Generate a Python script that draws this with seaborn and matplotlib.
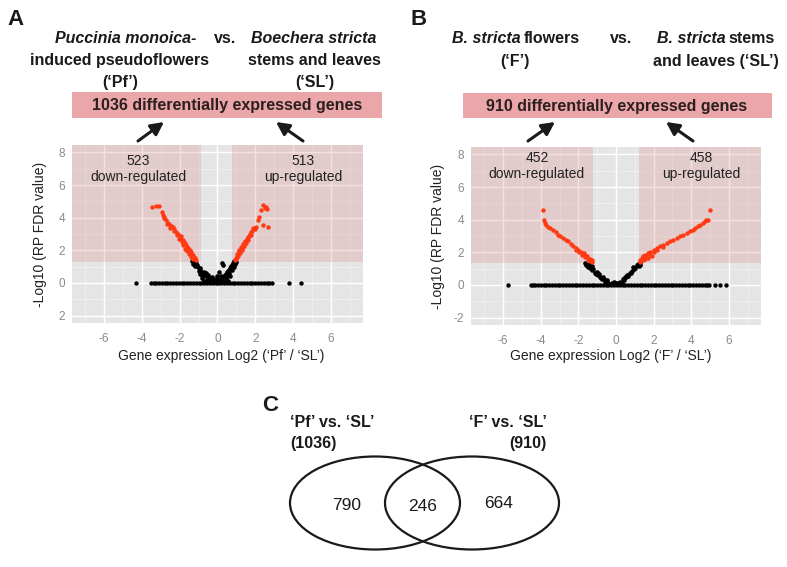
import numpy as np
import pandas as pd
import matplotlib
matplotlib.use('Agg')
import matplotlib.pyplot as plt
from matplotlib.patches import Rectangle, Ellipse
import seaborn as sns

# ---- panel A: log2('Pf'/'SL') vs -log10(RP FDR) ----
a_down_x = [-3.46, -3.25, -3.07, -2.95, -2.89, -2.82, -2.71, -2.60, -2.54, -2.45,
            -2.36, -2.28, -2.19, -2.10, -2.01, -1.95, -1.92, -1.84, -1.78, -1.72,
            -1.66, -1.60, -1.55, -1.48, -1.42, -1.38, -1.31, -1.25, -1.20, -1.13,
            -2.85, -2.65, -2.50, -2.30, -2.15, -2.05, -1.90, -1.80, -1.70, -1.60,
            -1.50, -1.40, -1.30]
a_down_y = [4.67, 4.73, 4.73, 4.37, 4.16, 4.05, 3.86, 3.70, 3.55, 3.50,
            3.41, 3.30, 3.15, 3.00, 2.84, 2.90, 2.72, 2.64, 2.50, 2.42,
            2.34, 2.20, 2.15, 2.03, 1.90, 1.82, 1.73, 1.60, 1.50, 1.42,
            3.95, 3.60, 3.35, 3.20, 2.95, 2.70, 2.50, 2.30, 2.10, 1.95,
            1.75, 1.60, 1.45]
a_up_x = [2.40, 2.57, 2.63, 2.50, 2.31, 2.22, 2.13, 2.40, 2.66, 2.05,
          1.98, 1.90, 1.85, 1.78, 1.70, 1.65, 1.60, 1.55, 1.48, 1.42,
          1.34, 1.28, 1.22, 1.16, 1.10, 1.02, 0.96, 0.90,
          1.75, 1.60, 1.50, 1.40, 1.30, 1.20, 1.10, 1.00, 1.45, 1.35,
          1.25, 1.15, 1.05]
a_up_y = [4.77, 4.67, 4.51, 4.60, 4.47, 4.02, 3.86, 3.55, 3.45, 3.45,
          3.30, 3.35, 3.20, 3.15, 3.00, 2.90, 2.84, 2.70, 2.54, 2.40,
          2.23, 2.10, 2.00, 1.93, 1.80, 1.62, 1.50, 1.38,
          2.95, 2.65, 2.45, 2.25, 2.05, 1.85, 1.65, 1.45, 2.60, 2.40,
          2.20, 2.00, 1.75]
a_ns_x = [-1.35, -1.25, -1.15, -1.20, -1.05, -0.95, -1.00, -0.85, -0.75, -0.80,
          -0.65, -0.55, 0.85, 0.95, 0.80, 0.70, 0.85, 0.65, 0.75, 0.55,
          0.60, 0.45, 0.50, 0.35, -0.80, -0.60, -0.45, -0.30, -0.15, 0.00,
          0.15, 0.30, 0.45, 0.55, -0.70, -0.50, -0.20, 0.10, 0.40, -0.35,
          0.20, -0.05, 0.10, 0.25, 0.30, -1.10, -0.90, -0.70, -0.60, -0.50,
          -0.40, 0.40, 0.50, 0.60, 0.70, 0.80, 0.90, -0.55, -0.25, 0.05,
          0.25, -0.90, 0.65, -1.30, 1.00]
a_ns_y = [1.32, 1.25, 1.20, 1.05, 1.00, 0.90, 0.75, 0.70, 0.60, 0.50,
          0.50, 0.40, 1.35, 1.25, 1.15, 1.05, 1.00, 0.90, 0.80, 0.75,
          0.60, 0.55, 0.45, 0.40, 0.30, 0.45, 0.25, 0.35, 0.15, 0.30,
          0.20, 0.10, 0.30, 0.15, 0.15, 0.10, 0.05, 0.05, 0.05, 0.10,
          0.40, 0.45, 0.70, 1.20, 1.10, 1.10, 0.80, 0.70, 0.60, 0.50,
          0.30, 0.50, 0.65, 0.80, 0.95, 1.25, 1.15, 0.20, 0.25, 0.15,
          0.30, 0.55, 0.45, 1.15, 1.30]
# genes lying on the zero line (FDR = 1)
a_flat_x = [-4.30, -3.50, -3.38, -3.25, -3.10, -2.95, -2.80, -2.66, -2.50, -2.36,
            -2.20, -2.05, -1.90, -1.76, -1.60, -1.45, -1.30, -1.15, -1.00, -0.85,
            -0.70, -0.55, -0.40, -0.25, -0.10, 0.05, 0.20, 0.35, 0.50, 0.65,
            0.80, 0.95, 1.10, 1.25, 1.40, 1.55, 1.70, 1.85, 2.00, 2.15,
            2.30, 2.45, 2.60, 2.75, 2.86, 3.76, 4.40]

# ---- panel B: log2('F'/'SL') ----
b_down_x = [-3.90, -3.83, -3.78, -3.70, -3.60, -3.50, -3.33, -3.20, -3.07, -2.95,
            -2.80, -2.67, -2.54, -2.40, -2.27, -2.14, -2.01, -1.88, -1.74, -1.60,
            -1.47, -1.38, -1.29, -1.25, -2.10, -1.95, -1.80, -1.65, -1.50, -1.40,
            -1.70, -1.55]
b_down_y = [4.57, 3.96, 3.80, 3.70, 3.55, 3.50, 3.38, 3.25, 3.08, 2.98,
            2.87, 2.77, 2.67, 2.53, 2.40, 2.27, 2.15, 2.03, 1.91, 1.78,
            1.64, 1.57, 1.50, 1.42, 2.15, 2.00, 1.85, 1.70, 1.55, 1.45,
            1.95, 1.80]
b_up_x = [5.00, 4.91, 4.80, 4.73, 4.60, 4.47, 4.33, 4.20, 4.07, 3.94,
          3.76, 3.58, 3.40, 3.23, 3.05, 2.87, 2.70, 2.52, 2.34, 2.16,
          2.00, 1.81, 1.68, 1.54, 1.45, 1.37, 1.28, 1.30,
          2.20, 2.00, 1.80, 1.60, 1.45, 1.90, 1.70, 2.50, 1.55]
b_up_y = [4.57, 4.00, 3.95, 3.90, 3.80, 3.69, 3.60, 3.49, 3.38, 3.28,
          3.18, 3.08, 2.97, 2.87, 2.77, 2.67, 2.56, 2.46, 2.36, 2.26,
          2.15, 2.05, 1.95, 1.85, 1.75, 1.64, 1.50, 1.42,
          2.15, 2.00, 1.85, 1.70, 1.55, 1.80, 1.65, 2.35, 1.60]
b_ns_x = [-1.65, -1.55, -1.45, -1.38, -1.30, -1.25, -1.12, -1.00, -0.95, -0.85,
          -0.75, -0.70, -0.59, -0.45, -0.32, 1.28, 1.15, 1.20, 1.01, 0.90,
          0.85, 0.74, 0.60, 0.48, 0.35, 0.21, 0.10, -0.20, 0.00, 0.15,
          -0.10, 0.30, -1.50, -1.20, -1.05, -0.90, -0.80, -0.65, -0.50, 1.10,
          0.95, 0.80, 0.65, 0.55, 0.40, 1.30, -1.60]
b_ns_y = [1.33, 1.20, 1.30, 1.03, 1.15, 0.90, 0.72, 0.80, 0.60, 0.48,
          0.35, 0.50, 0.21, 0.15, 0.06, 1.33, 1.30, 1.15, 1.03, 1.10,
          0.85, 0.72, 0.60, 0.48, 0.35, 0.21, 0.10, 0.10, 0.15, 0.05,
          0.20, 0.10, 1.10, 1.00, 0.65, 0.70, 0.45, 0.35, 0.30, 1.20,
          0.95, 0.75, 0.55, 0.50, 0.30, 1.25, 1.25]
b_flat_x = [-5.74, -4.50, -4.40, -4.30, -4.15, -4.00, -3.85, -3.70, -3.55, -3.40,
            -3.25, -3.10, -2.95, -2.80, -2.65, -2.50, -2.35, -2.20, -2.05, -1.90,
            -1.75, -1.60, -1.45, -1.30, -1.15, -1.00, -0.85, -0.70, -0.55, -0.40,
            -0.25, -0.10, 0.05, 0.20, 0.35, 0.50, 0.65, 0.80, 0.95, 1.10,
            1.25, 1.40, 1.55, 1.70, 1.85, 2.00, 2.15, 2.30, 2.45, 2.60,
            2.75, 2.90, 3.05, 3.20, 3.35, 3.50, 3.65, 3.80, 3.95, 4.10,
            4.25, 4.40, 4.55, 4.70, 4.85, 4.92, 5.27, 5.50, 5.84]

# significance zones (left log2 cut, right log2 cut, -log10 FDR cut)
a_cuts = (-0.85, 0.75, 1.3)
b_cuts = (-1.22, 1.22, 1.37)
a_counts = [523, 513]
b_counts = [452, 458]
deg_totals = [1036, 910]
venn_counts = [790, 246, 664]

x_ticks = [-6, -4, -2, 0, 2, 4, 6]
y_ticks = [-2, 0, 2, 4, 6, 8]
a_ytick_labels = ['2', '0', '2', '4', '6', '8']
b_ytick_labels = ['-2', '0', '2', '4', '6', '8']

XLIM = (-7.7, 7.7)
YLIM = (-2.45, 8.45)
RED = '#FF3A12'
INK = '#1a1a1a'

sns.set_theme(style='darkgrid')
plt.rcParams['font.family'] = ['Liberation Sans', 'DejaVu Sans']
plt.rcParams['axes.unicode_minus'] = False


def make_df(down_x, down_y, up_x, up_y, ns_x, ns_y, flat_x):
    parts = [
        pd.DataFrame({'x': down_x, 'y': down_y, 'kind': 'sig'}),
        pd.DataFrame({'x': up_x, 'y': up_y, 'kind': 'sig'}),
        pd.DataFrame({'x': ns_x, 'y': ns_y, 'kind': 'ns'}),
        pd.DataFrame({'x': flat_x, 'y': 0.0, 'kind': 'flat'}),
    ]
    return pd.concat(parts, ignore_index=True)


def volcano(ax, df, cuts, counts, label_y, xlabel, ylabels, xlab_pos, ylab_x):
    ax.set_facecolor('#E5E5E5')
    ax.set_xlim(*XLIM)
    ax.set_ylim(*YLIM)
    ax.set_xticks(x_ticks)
    ax.set_xticks([-7, -5, -3, -1, 1, 3, 5, 7], minor=True)
    ax.set_yticks(y_ticks)
    ax.set_yticks([-1, 1, 3, 5, 7], minor=True)
    ax.set_yticklabels(ylabels)
    ax.grid(which='major', color='white', lw=1.0)
    ax.grid(which='minor', color='#F2F2F2', lw=0.5)
    ax.set_axisbelow(True)
    for sp in ax.spines.values():
        sp.set_visible(False)
    ax.tick_params(which='minor', length=0)
    ax.tick_params(which='major', length=3.5, width=0.8, color='#8a8a8a',
                   labelcolor='#8a8a8a', labelsize=8.5)
    ax.tick_params(axis='x', pad=4)
    ax.tick_params(axis='y', pad=1.5)

    left, right, thr = cuts
    for x0, w in [(XLIM[0], left - XLIM[0]), (right, XLIM[1] - right)]:
        ax.add_patch(Rectangle((x0, thr), w, YLIM[1] - thr, fc='#D98080',
                               alpha=0.25, lw=0, zorder=1))

    sns.scatterplot(data=df[df.kind == 'flat'], x='x', y='y', color='black',
                    s=10, linewidth=0, ax=ax, zorder=3)
    sns.scatterplot(data=df[df.kind == 'ns'], x='x', y='y', color='black',
                    s=11, linewidth=0, ax=ax, zorder=3)
    sns.scatterplot(data=df[df.kind == 'sig'], x='x', y='y', color=RED,
                    s=10, linewidth=0, ax=ax, zorder=4)

    ax.text(-4.2, label_y, f'{counts[0]}\ndown-regulated', ha='center',
            va='center', fontsize=10, color='#222222', linespacing=1.15)
    ax.text(4.55, label_y, f'{counts[1]}\nup-regulated', ha='center',
            va='center', fontsize=10, color='#222222', linespacing=1.15)

    ax.set_xlabel(xlabel, fontsize=10, color='#222222')
    ax.set_ylabel('-Log10 (RP FDR value)', fontsize=10, color='#222222')
    ax.xaxis.set_label_coords(xlab_pos[0], xlab_pos[1])
    ax.yaxis.set_label_coords(ylab_x, 0.5)


fig = plt.figure(figsize=(7.87, 5.67), dpi=100)

# overlay in pixel coordinates for headers, banners, arrows and the Venn panel
ov = fig.add_axes([0, 0, 1, 1])
ov.set_xlim(0, 787)
ov.set_ylim(567, 0)
ov.axis('off')


def say(x, y, s, size=11.5, weight='bold', style='normal', ha='center', color=INK):
    return ov.text(x, y, s, fontsize=size, fontweight=weight, fontstyle=style,
                   ha=ha, va='baseline', color=color)


def rich(cx, y, parts, size=11.5, gap=3.5):
    r = fig.canvas.get_renderer()
    objs = [say(0, y, txt, size=size, style=st, ha='left') for txt, st in parts]
    widths = [t.get_window_extent(r).width for t in objs]
    x = cx - (sum(widths) + gap * (len(objs) - 1)) / 2
    for t, w in zip(objs, widths):
        t.set_x(x)
        x += w + gap


def arrow(tail, head):
    ov.annotate('', xy=head, xytext=tail,
                arrowprops=dict(arrowstyle='-|>,head_length=0.55,head_width=0.28',
                                color=INK, lw=2.2, mutation_scale=14,
                                shrinkA=0, shrinkB=0))


# panel letters
say(7, 25, 'A', size=16, ha='left')
say(410, 25, 'B', size=16, ha='left')
say(262, 411, 'C', size=16, ha='left')

# panel A header
say(126, 43, 'Puccinia monoica-', style='italic')
say(225, 43, 'vs.')
say(314, 43, 'Boechera stricta', style='italic')
say(119, 65, 'induced pseudoflowers')
say(314, 65, 'stems and leaves')
say(120, 87, '(‘Pf’)')
say(315, 87, '(‘SL’)')

# panel B header
rich(516, 43, [('B. stricta', 'italic'), ('flowers', 'normal')])
say(621, 43, 'vs.')
rich(716, 43, [('B. stricta', 'italic'), ('stems', 'normal')])
say(515, 66, '(‘F’)')
say(716, 66, 'and leaves (‘SL’)')

# banners
ov.add_patch(Rectangle((72, 92), 310, 26, fc='#EAA6A8', lw=0))
say(227, 110, f'{deg_totals[0]} differentially expressed genes', color='#2b1f1f')
ov.add_patch(Rectangle((463, 93), 309, 25, fc='#EAA6A8', lw=0))
say(617, 110.5, f'{deg_totals[1]} differentially expressed genes', color='#2b1f1f')

arrow((138, 141), (164, 122))
arrow((303, 141), (276, 122))
arrow((528, 141), (555, 122))
arrow((693, 141), (666, 122))

# volcano panels
ax_a = fig.add_axes([72 / 787, 1 - 323 / 567, 291 / 787, 178 / 567])
df_a = make_df(a_down_x, a_down_y, a_up_x, a_up_y, a_ns_x, a_ns_y, a_flat_x)
volcano(ax_a, df_a, a_cuts, a_counts, 7.0, 'Gene expression Log2 (‘Pf’ / ‘SL’)',
        a_ytick_labels, (0.512, -0.148), -0.086)

ax_b = fig.add_axes([471 / 787, 1 - 325 / 567, 290 / 787, 178 / 567])
df_b = make_df(b_down_x, b_down_y, b_up_x, b_up_y, b_ns_x, b_ns_y, b_flat_x)
volcano(ax_b, df_b, b_cuts, b_counts, 7.3, 'Gene expression Log2 (‘F’ / ‘SL’)',
        b_ytick_labels, (0.483, -0.135), -0.09)

# Venn panel C
ov.add_patch(Ellipse((375, 503), 170, 93, fill=False, ec=INK, lw=1.6))
ov.add_patch(Ellipse((472, 503), 174, 93, fill=False, ec=INK, lw=1.6))
say(290, 427, '‘Pf’ vs. ‘SL’', ha='left')
say(290, 448, f'({deg_totals[0]})', ha='left')
say(547, 427, '‘F’ vs. ‘SL’', ha='right')
say(547, 448, f'({deg_totals[1]})', ha='right')
for cx, by, n in zip([347, 423, 499], [510, 511, 508], venn_counts):
    say(cx, by, str(n), size=12.5, weight='normal')

fig.savefig('out.png', dpi=100)
